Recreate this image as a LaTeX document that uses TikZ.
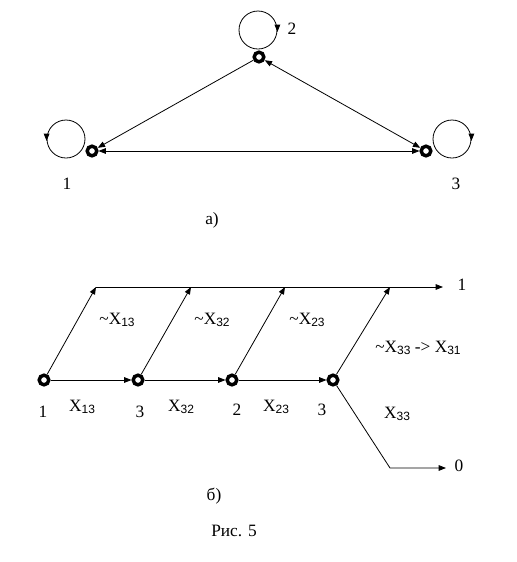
\documentclass[tikz,border=0pt]{standalone}
\usepackage{fontspec}
\setmainfont{Liberation Serif}
\newfontfamily\subf{Liberation Sans}
\usetikzlibrary{arrows.meta}
\newcommand\Xs[1]{X\raisebox{-2pt}{\fontsize{9}{10}\subf #1}}
\begin{document}
\begin{tikzpicture}[x=0.75pt,y=-0.75pt,
  font=\fontsize{13}{15}\selectfont,
  >={Triangle[length=5.5pt,width=4.2pt]},
  vtx/.style={circle,draw,line width=2.6pt,minimum size=7.2pt,inner sep=0pt},
  loopc/.style={circle,draw,line width=0.6pt,minimum size=28.5pt,inner sep=0pt},
  edge/.style={line width=0.6pt},
  lbl/.style={inner sep=0pt}]
\path[use as bounding box] (0,0) rectangle (517,562);
% part a)
\node[vtx] (A2) at (259,57) {};
\node[vtx] (A1) at (92,151) {};
\node[vtx] (A3) at (426,151) {};
\node[loopc] (L2) at (258,30) {};
\node[loopc] (L1) at (66,139) {};
\node[loopc] (L3) at (452,139) {};
\draw[edge,->] ([yshift=2pt]L2.east) -- ([yshift=-1.5pt]L2.east);
\draw[edge,->] ([yshift=2pt]L1.west) -- ([yshift=-1.5pt]L1.west);
\draw[edge,->] ([yshift=2pt]L3.east) -- ([yshift=-1.5pt]L3.east);
\draw[edge,->] (A2) -- (A1);
\draw[edge,<->] (A2) -- (A3);
\draw[edge,<->] (A1) -- (A3);
\node[lbl] (n2) at (292,29) {2};
\node[lbl] (n1) at (67,184) {1};
\node[lbl] (n3) at (456,184) {3};
\node[lbl] (capa) at (212,220) {а)};
% part b)
\node[vtx] (B1) at (44,380) {};
\node[vtx] (B2) at (138,380) {};
\node[vtx] (B3) at (232,380) {};
\node[vtx] (B4) at (333,380) {};
\coordinate (T1) at (96,287);
\coordinate (T2) at (191,287);
\coordinate (T3) at (285,287);
\coordinate (T4) at (390,287);
\coordinate (Tend) at (443,287);
\coordinate (D) at (390,468);
\coordinate (Dend) at (446,468);
\draw[edge,->] (T1) -- (Tend);
\draw[edge,->] (B1) -- (T1);
\draw[edge,->] (B2) -- (T2);
\draw[edge,->] (B3) -- (T3);
\draw[edge,->] (B4) -- (T4);
\draw[edge,->] (B1) -- (B2);
\draw[edge,->] (B2) -- (B3);
\draw[edge,->] (B3) -- (B4);
\draw[edge,->] (B4) -- (D) -- (Dend);
\node[lbl] (o1) at (462,285) {1};
\node[lbl] (o0) at (459,466) {0};
\node[lbl] (nx13) at (117,320) {\textasciitilde\Xs{13}};
\node[lbl] (nx32) at (212,320) {\textasciitilde\Xs{32}};
\node[lbl] (nx23) at (307,320) {\textasciitilde\Xs{23}};
\node[lbl] (nx33) at (418,348) {\textasciitilde\Xs{33} -> \Xs{31}};
\node[lbl] (x13) at (82,407) {\Xs{13}};
\node[lbl] (x32) at (181,407) {\Xs{32}};
\node[lbl] (x23) at (276,407) {\Xs{23}};
\node[lbl] (x33) at (397,414) {\Xs{33}};
\node[lbl] (m1) at (43,412) {1};
\node[lbl] (m3) at (140,412) {3};
\node[lbl] (m2) at (237,410) {2};
\node[lbl] (m4) at (322,410) {3};
\node[lbl] (capb) at (214,496) {б)};
\node[lbl] (fig) at (234,531) {Рис. 5};
\end{tikzpicture}
\end{document}
